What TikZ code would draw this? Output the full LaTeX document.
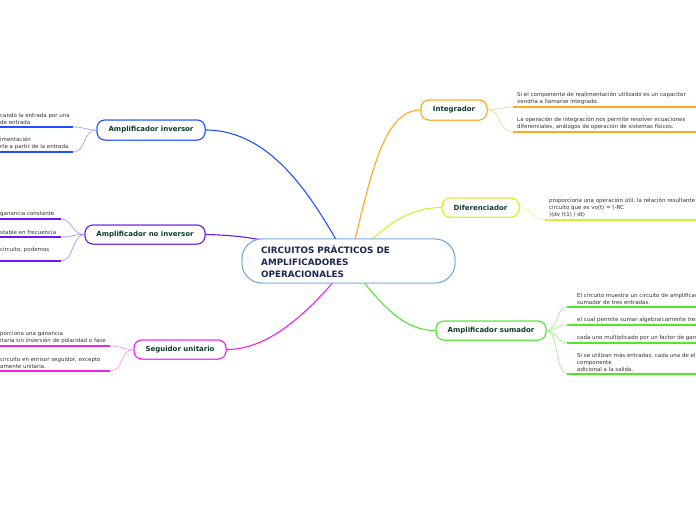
\documentclass[tikz,border=0pt]{standalone}
\usepackage{fontspec}
\setmainfont{DejaVu Sans}
\setsansfont{DejaVu Sans}
\begin{document}
\begin{tikzpicture}[x=1pt,y=-1pt,
  topic/.style={draw=#1,line width=1pt,rounded corners=8pt,fill=white,inner sep=0pt,
     font=\fontsize{7}{8}\selectfont\bfseries,text=titlec},
  leaftext/.style={anchor=south west,align=left,inner sep=0pt,font=\fontsize{5.5}{7}\selectfont,text=leafc},
  uline/.style={draw=#1,line width=1.6pt},
  branch/.style={draw=#1,line width=1.1pt},
  twig/.style={draw=#1,line width=0.8pt},
  central/.style={draw=cb,line width=0.9pt,rounded corners=20pt,fill=white,minimum width=213pt,minimum height=44pt,inner sep=0pt},
  centtext/.style={anchor=west,align=left,inner sep=0pt,font=\fontsize{8.8}{12}\selectfont\bfseries,text=centc}]
\definecolor{titlec}{HTML}{0E3B2E}
\definecolor{leafc}{HTML}{333333}
\definecolor{centc}{HTML}{1A2755}
\definecolor{cb}{HTML}{6AA6D8}
\definecolor{cinv}{HTML}{2050FF}
\definecolor{cinvl}{HTML}{9DB2FF}
\definecolor{cnon}{HTML}{6A1AF0}
\definecolor{cnonl}{HTML}{B99BF5}
\definecolor{cseg}{HTML}{EE22EE}
\definecolor{csegl}{HTML}{F4A6F4}
\definecolor{cint}{HTML}{FFA820}
\definecolor{cintl}{HTML}{FFD79A}
\definecolor{cdif}{HTML}{D4F030}
\definecolor{cdifl}{HTML}{E8F79A}
\definecolor{csum}{HTML}{4EE82E}
\definecolor{csuml}{HTML}{A8F49A}
\useasboundingbox (0,0) rectangle (696,520);
\clip (0,0) rectangle (696,520);

% central and topic nodes (for anchors)
\node[central] (c) at (348.5,261) {};
\node[topic=cinv,minimum width=108pt,minimum height=20pt] (inv) at (151,130) {Amplificador inversor};
\node[topic=cnon,minimum width=120pt,minimum height=19pt] (non) at (145,234.5) {Amplificador no inversor};
\node[topic=cseg,minimum width=92pt,minimum height=19pt] (seg) at (180,349.5) {Seguidor unitario};
\node[topic=cint,minimum width=66pt,minimum height=20pt] (int) at (454,110) {Integrador};
\node[topic=cdif,minimum width=77pt,minimum height=19pt] (dif) at (480.5,207.5) {Diferenciador};
\node[topic=csum,minimum width=110pt,minimum height=19pt] (sum) at (491,330.5) {Amplificador sumador};

% main branches
\draw[branch=cinv] (336,239.5) .. controls (310,195) and (270,130) .. (inv.east);
\draw[branch=cnon] (262,240) .. controls (240,236) and (225,235) .. (non.east);
\draw[branch=cseg] (333,282.5) .. controls (300,320) and (265,349.5) .. (seg.east);
\draw[branch=cint] (355,239.5) .. controls (372,170) and (385,110) .. (int.west);
\draw[branch=cdif] (372,239.5) .. controls (398,215) and (420,207.5) .. (dif.west);
\draw[branch=csum] (364,282.5) .. controls (390,315) and (410,330.5) .. (sum.west);
% central on top
\node[central] (c2) at (348.5,261) {};
\node[centtext] (ct) at (261,261) {CIRCUITOS PRÁCTICOS DE\\AMPLIFICADORES\\OPERACIONALES};

% inversor leaves
\coordinate (i1) at (73,127); \coordinate (i2) at (73,152);
\draw[uline=cinv] (0,127) -- (i1);
\draw[uline=cinv] (0,152) -- (i2);
\node[leaftext] (ti1) at (0,124.5) {cando la entrada por una\\de entrada};
\node[leaftext] (ti2) at (0,149.5) {imentación\\rte a partir de la entrada};
\draw[twig=cinvl] (inv.west) .. controls (85,130) and (85,127) .. (i1);
\draw[twig=cinvl] (inv.west) .. controls (83,130) and (86,152) .. (i2);

% no inversor leaves
\coordinate (n1) at (61,219); \coordinate (n2) at (61,237); \coordinate (n3) at (61,261);
\draw[uline=cnon] (0,219) -- (n1);
\draw[uline=cnon] (0,237) -- (n2);
\draw[uline=cnon] (0,261) -- (n3);
\node[leaftext] (tn1) at (0,216.5) {ganancia constante};
\node[leaftext] (tn2) at (0,234.5) {stable en frecuencia};
\node[leaftext] (tn3) at (0,252.5) {circuito, podemos};
\draw[twig=cnonl] (non.west) .. controls (72,234.5) and (72,219) .. (n1);
\draw[twig=cnonl] (non.west) .. controls (72,234.5) and (72,237) .. (n2);
\draw[twig=cnonl] (non.west) .. controls (72,234.5) and (74,261) .. (n3);

% seguidor leaves
\coordinate (s1) at (110,346); \coordinate (s2) at (110,371);
\draw[uline=cseg] (0,346) -- (s1);
\draw[uline=cseg] (0,371) -- (s2);
\node[leaftext] (ts1) at (0,343.5) {porciona una ganancia\\itaria sin inversión de polaridad o fase};
\node[leaftext] (ts2) at (0,368.5) {circuito en emisor seguidor,  excepto\\amente unitaria.};
\draw[twig=csegl] (seg.west) .. controls (122,349.5) and (122,346) .. (s1);
\draw[twig=csegl] (seg.west) .. controls (120,349.5) and (124,371) .. (s2);

% integrador leaves
\coordinate (g1) at (513,107); \coordinate (g2) at (513,132);
\draw[uline=cint] (g1) -- (696,107);
\draw[uline=cint] (g2) -- (696,132);
\node[leaftext] (tg1) at (517,104.5) {Si el componente de realimentación utilizado es un capacitor\\vendría a llamarse integrado.};
\node[leaftext] (tg2) at (517,129.5) {La operación de integración nos permite resolver ecuaciones\\diferenciales, análogos de operación de sistemas físicos.};
\draw[twig=cintl] (int.east) .. controls (500,110) and (500,107) .. (g1);
\draw[twig=cintl] (int.east) .. controls (502,110) and (498,132) .. (g2);

% diferenciador leaf
\coordinate (d1) at (545,220);
\draw[uline=cdif] (d1) -- (696,220);
\node[leaftext] (td1) at (549,217.5) {proporciona una operación útil, la relación resultante\\circuito que es vo(t) = (-RC\\)(dv (t1) / dt)};
\draw[twig=cdifl] (dif.east) .. controls (532,207.5) and (532,220) .. (d1);

% sumador leaves
\coordinate (m1) at (567,307); \coordinate (m2) at (567,325);
\coordinate (m3) at (567,343); \coordinate (m4) at (567,374);
\draw[uline=csum] (m1) -- (696,307);
\draw[uline=csum] (m2) -- (696,325);
\draw[uline=csum] (m3) -- (696,343);
\draw[uline=csum] (m4) -- (696,374);
\node[leaftext] (tm1) at (577,304.5) {El circuito muestra un circuito de amplificac\\sumador de tres entradas.};
\node[leaftext] (tm2) at (577,322.5) {el cual permite sumar algebraicamente tres};
\node[leaftext] (tm3) at (577,340.5) {cada uno multiplicado por un factor de gan};
\node[leaftext] (tm4) at (577,371.5) {Si se utilizan más entradas, cada una de el\\componente\\ adicional a la salida.};
\draw[twig=csuml] (sum.east) .. controls (558,330.5) and (556,307) .. (m1);
\draw[twig=csuml] (sum.east) .. controls (557,330.5) and (557,325) .. (m2);
\draw[twig=csuml] (sum.east) .. controls (557,330.5) and (557,343) .. (m3);
\draw[twig=csuml] (sum.east) .. controls (558,330.5) and (556,374) .. (m4);

% topic nodes on top of branches
\node[topic=cinv,minimum width=108pt,minimum height=20pt] (inv2) at (151,130) {Amplificador inversor};
\node[topic=cnon,minimum width=120pt,minimum height=19pt] (non2) at (145,234.5) {Amplificador no inversor};
\node[topic=cseg,minimum width=92pt,minimum height=19pt] (seg2) at (180,349.5) {Seguidor unitario};
\node[topic=cint,minimum width=66pt,minimum height=20pt] (int2) at (454,110) {Integrador};
\node[topic=cdif,minimum width=77pt,minimum height=19pt] (dif2) at (480.5,207.5) {Diferenciador};
\node[topic=csum,minimum width=110pt,minimum height=19pt] (sum2) at (491,330.5) {Amplificador sumador};
\end{tikzpicture}
\end{document}
